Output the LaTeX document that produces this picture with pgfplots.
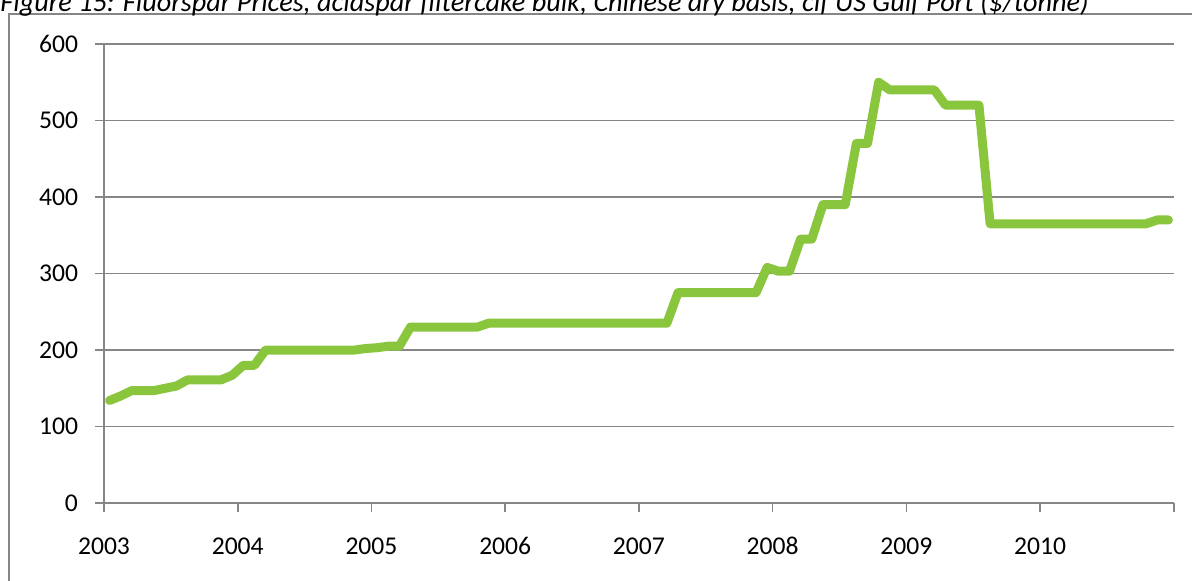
\documentclass[border=0pt]{standalone}
\usepackage{pgfplots}
\pgfplotsset{compat=1.18}
\usepackage{pgfplotstable}
\usepackage{fontspec}
\setmainfont{Carlito}
\definecolor{priceGreen}{RGB}{138,197,62}
\definecolor{axisGray}{RGB}{134,134,134}

% Monthly price, month 0 = January 2003
\pgfplotstableread{
m price
0 134
1 140
2 147
3 147
4 147
5 150
6 153
7 161
8 161
9 161
10 161
11 167
12 180
13 180
14 200
15 200
16 200
17 200
18 200
19 200
20 200
21 200
22 200
23 202
24 203
25 205
26 205
27 230
28 230
29 230
30 230
31 230
32 230
33 230
34 235
35 235
36 235
37 235
38 235
39 235
40 235
41 235
42 235
43 235
44 235
45 235
46 235
47 235
48 235
49 235
50 235
51 275
52 275
53 275
54 275
55 275
56 275
57 275
58 275
59 308
60 303
61 303
62 345
63 345
64 390
65 390
66 390
67 470
68 470
69 550
70 540
71 540
72 540
73 540
74 540
75 520
76 520
77 520
78 520
79 365
80 365
81 365
82 365
83 365
84 365
85 365
86 365
87 365
88 365
89 365
90 365
91 365
92 365
93 365
94 370
95 370
}\pricedata

\begin{document}
\begin{tikzpicture}
\useasboundingbox (0,0) rectangle (596pt,-290pt);
% chart frame
\draw[axisGray, line width=0.8pt] (4.5pt,-320pt) -- (4.5pt,-7pt) -- (620pt,-7pt);
% caption
\node[anchor=base west, inner sep=0pt, font=\fontsize{14.1pt}{16pt}\selectfont\itshape]
  at (0pt,-5.6pt) {Figure 15: Fluorspar Prices, acidspar filtercake bulk, Chinese dry basis, cif US Gulf Port (\$/tonne)};
\begin{axis}[
  at={(52pt,-251.5pt)}, anchor=south west,
  scale only axis, width=535pt, height=229.5pt,
  xmin=2003, xmax=2011, ymin=0, ymax=600,
  axis x line*=bottom, axis y line*=left,
  axis line style={axisGray, line width=0.9pt},
  xtick={2003,2004,...,2011},
  xticklabels={2003,2004,2005,2006,2007,2008,2009,2010,{}},
  ytick={0,100,...,600},
  ymajorgrids, grid style={axisGray, line width=0.8pt},
  tick align=outside, major tick length=4.5pt,
  tick style={axisGray, line width=0.8pt},
  every tick label/.append style={font=\fontsize{12.8pt}{15pt}\selectfont, text=black},
  /pgf/number format/assume math mode=true,
  xticklabel style={/pgf/number format/1000 sep={}, text height=9pt, text depth=0pt, yshift=-8.6pt},
  yticklabel style={xshift=-5pt},
  clip=false,
]
\addplot[priceGreen, line width=4.5pt, line join=round, line cap=round]
  table[x expr={2003+(\thisrow{m}+0.5)/12}, y=price] {\pricedata};
\end{axis}
\end{tikzpicture}
\end{document}
